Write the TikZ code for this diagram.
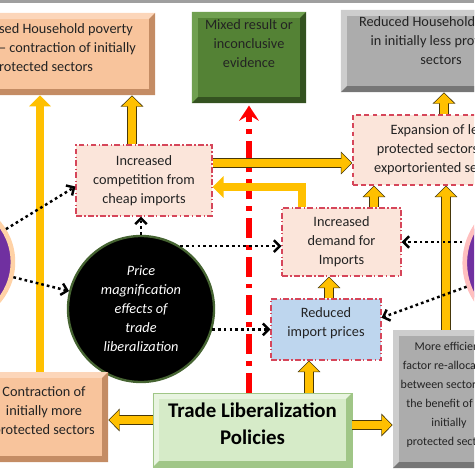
\documentclass[tikz,border=0pt]{standalone}
\usepackage{fontspec}
\setmainfont{Carlito}
\usetikzlibrary{arrows.meta,calc}
\definecolor{peach}{RGB}{248,196,156}
\definecolor{peachdk}{RGB}{196,140,100}
\definecolor{peachlt}{RGB}{252,214,186}
\definecolor{boxgray}{RGB}{172,172,172}
\definecolor{boxgraydk}{RGB}{118,118,118}
\definecolor{boxgraylt}{RGB}{205,205,205}
\definecolor{mixgreen}{RGB}{84,130,53}
\definecolor{mixgreendk}{RGB}{52,82,32}
\definecolor{mixgreenlt}{RGB}{112,160,80}
\definecolor{tlgreen}{RGB}{214,235,200}
\definecolor{tlgreendk}{RGB}{160,198,135}
\definecolor{tlgreenlt}{RGB}{232,244,224}
\definecolor{pinkfill}{RGB}{251,229,218}
\definecolor{bluefill}{RGB}{190,214,238}
\definecolor{dashred}{RGB}{214,70,90}
\definecolor{arrowyellow}{RGB}{255,192,0}
\definecolor{arrowedge}{RGB}{70,55,10}
\definecolor{purplec}{RGB}{112,48,160}
\definecolor{textdark}{RGB}{35,35,35}

\begin{document}
\begin{tikzpicture}[x=0.03cm,y=-0.03cm,
  txt/.style={font=\fontsize{12.2}{16.2}\selectfont,text=textdark,align=center},
  bevel/.style 2 args={path picture={
    \fill[#1] (path picture bounding box.north west) -- (path picture bounding box.north east)
      -- ([shift={(-5pt,-5pt)}]path picture bounding box.north east)
      -- ([shift={(5pt,-5pt)}]path picture bounding box.north west)
      -- ([shift={(5pt,5pt)}]path picture bounding box.south west)
      -- (path picture bounding box.south west) -- cycle;
    \fill[#2] (path picture bounding box.south east) -- (path picture bounding box.north east)
      -- ([shift={(-5pt,-5pt)}]path picture bounding box.north east)
      -- ([shift={(-5pt,5pt)}]path picture bounding box.south east)
      -- ([shift={(5pt,5pt)}]path picture bounding box.south west)
      -- (path picture bounding box.south west) -- cycle;}},
  peachbox/.style={txt,rectangle,fill=peach,bevel={peachlt}{peachdk}},
  graybox/.style={txt,rectangle,fill=boxgray,bevel={boxgraylt}{boxgraydk}},
  dashbox/.style={txt,rectangle,fill=pinkfill,draw=dashred,line width=0.9pt,
    dash pattern=on 5pt off 2pt on 1.2pt off 2pt},
  fat/.style={line width=6.4pt,draw=arrowyellow,-{Triangle[length=8.4pt,width=16.4pt]},shorten >=1pt,
    preaction={draw=arrowedge,line width=8.2pt,-{Triangle[length=9.8pt,width=19pt]},shorten >=0pt}},
  fatlight/.style={line width=7.4pt,draw=arrowyellow,-{Triangle[length=9.4pt,width=18pt]}},
  dotarrow/.style={line width=2.1pt,dash pattern=on 2.3pt off 2.6pt,
    -{Straight Barb[length=5pt,width=10pt]}},
  redarrow/.style={line width=4.3pt,draw=red,dash pattern=on 17pt off 6pt on 4pt off 6pt,
    -{Stealth[length=13pt,width=17pt,inset=5pt]},shorten >=2pt}
]
\useasboundingbox (0,0) rectangle (474,474);
\clip (0,0) rectangle (474,474);
\fill[gray!75] (0,0) rectangle (474,3);

%--- top row ---
\node[peachbox,align=left,minimum width=5.25cm,minimum height=2.46cm,text depth=0.41cm]
  (povL) at (67.5,54) {sed Household poverty\\– contraction of initially\\rotected sectors};
\node[txt,rectangle,fill=mixgreen,bevel={mixgreenlt}{mixgreendk},minimum width=3.42cm,
  minimum height=2.73cm,text depth=0.83cm] (mixed) at (249,57.5) {Mixed result or\\inconclusive\\evidence};
\node[graybox,minimum width=6cm,minimum height=2.46cm,text depth=0.65cm]
  (redhh) at (441,51) {Reduced Household poverty\\in initially less protected\\sectors};

%--- middle: channels ---
\node[dashbox,minimum width=4.08cm,minimum height=2.13cm]
  (compet) at (144,180.5) {Increased\\competition from\\cheap imports};
\node[dashbox,dash pattern=on 4pt off 3pt,minimum width=5.22cm,minimum height=2.1cm]
  (expan) at (440,150) {Expansion of less\\protected sectors and\\exportoriented sectors};
\node[dashbox,minimum width=3.57cm,minimum height=2.04cm]
  (demand) at (341.5,242) {Increased\\demand for\\Imports};
\node[dashbox,fill=bluefill,minimum width=3.3cm,minimum height=1.83cm,text depth=0.47cm]
  (reduced) at (326,329.5) {Reduced\\import prices};

% circles
\node[circle,fill=purplec,draw=orange!35,line width=4pt,minimum size=3.63cm] (leftcirc) at (-47.6,262) {};
\node[circle,fill=purplec,draw=red!25,line width=4pt,minimum size=4.02cm] (rightcirc) at (531.8,263) {};
\node[circle,fill=black,draw={rgb,255:red,70;green,100;blue,50},line width=2pt,minimum size=4.38cm,
  align=center,text=white,font=\fontsize{12.2}{16.2}\selectfont\itshape]
  (priceeff) at (141,309) {Price\\magnification\\effects of\\trade\\liberalization};

%--- bottom row ---
\node[peachbox,minimum width=3.84cm,minimum height=2.7cm,text depth=0.41cm]
  (contr) at (44,417) {Contraction of\\initially more\\protected sectors};
\node[rectangle,fill=tlgreen,draw=tlgreendk,line width=0.8pt,bevel={tlgreenlt}{tlgreendk},
  align=center,text=black,font=\fontsize{17.8}{23.8}\selectfont\bfseries,
  minimum width=5.97cm,minimum height=2.22cm,text depth=0.38cm]
  (tradelib) at (252.5,430) {Trade Liberalization\\Policies};
\node[graybox,font=\fontsize{10.2}{16.3}\selectfont,minimum width=3.36cm,minimum height=4.14cm,
  text depth=0.31cm] (moreeff) at (449,399)
  {More efficient\\factor re-allocation\\between sectors for\\the benefit of the\\initially\\protected sectors};

%--- red dash-dot arrow ---
\draw[redarrow] (tradelib.north -| mixed.south) -- (mixed.south);

%--- yellow arrows ---
\draw[fatlight] (40,0 |- contr.north) -- (40,0 |- povL.south);
\draw[fat] (132,0 |- compet.north) -- (132,0 |- povL.south);
\draw[fat] (compet.east |- 0,163) -- (expan.west |- 0,163);
\draw[fatlight] (302,0 |- demand.north) |- (compet.east |- 0,187);
\draw[fat] (374,0 |- demand.north) -- (374,0 |- expan.south);
\draw[fat] (446,0 |- moreeff.north) -- (446,0 |- expan.south);
\draw[fat] (444,0 |- expan.north) -- (444,0 |- redhh.south);
\draw[fat] (329,0 |- reduced.north) -- (329,0 |- demand.south);
\draw[fat] (309,0 |- tradelib.north) -- (309,0 |- reduced.south);
\draw[fat] (tradelib.west |- 0,420) -- (contr.east |- 0,420);
\draw[fat] (tradelib.east |- 0,425) -- (moreeff.west |- 0,425);

%--- dotted arrows ---
\draw[dotarrow] (leftcirc) -- ($(compet.west)+(0,6)$);
\draw[dotarrow] (leftcirc) -- (priceeff);
\draw[dotarrow] (priceeff.north) -- (priceeff.north |- compet.south);
\draw[dotarrow] (priceeff.58) -- (priceeff.58 -| demand.west);
\draw[dotarrow] (priceeff.-16) -- (priceeff.-16 -| reduced.west);
\draw[dotarrow] (demand.east -| rightcirc.west) -- (demand.east);
\draw[dotarrow] (rightcirc) -- (reduced.12);
\end{tikzpicture}
\end{document}
